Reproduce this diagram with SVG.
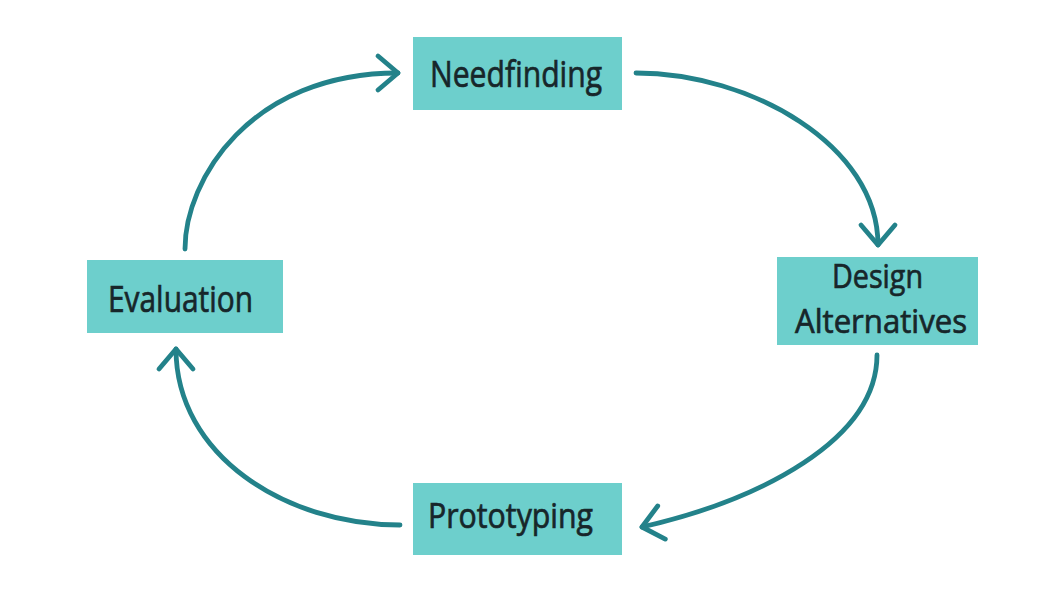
<svg xmlns="http://www.w3.org/2000/svg" width="1059" height="602" viewBox="0 0 1059 602">
  <style>
    .box { fill: #6dcfcc; }
    .lbl { font-family: "Open Sans", "DejaVu Sans", sans-serif; fill: #17262a; stroke: #17262a; stroke-width: 0.7; text-anchor: middle; }
    .conn { fill: none; stroke: #23828a; stroke-width: 4.8; stroke-linecap: round; }
  </style>
  <defs>
    <marker id="chev" markerUnits="userSpaceOnUse" orient="auto" markerWidth="40" markerHeight="40" viewBox="-30 -20 40 40" refX="0" refY="0" overflow="visible">
      <path d="M-20,-17 L0,0 L-20,17" fill="none" stroke="#23828a" stroke-width="4.8" stroke-linecap="round" stroke-linejoin="round"/>
    </marker>
  </defs>
  <rect width="1059" height="602" fill="#ffffff"/>
  <g id="connectors">
    <path class="conn" d="M185,249 C185,180 250,73 398,73" marker-end="url(#chev)"/>
    <path class="conn" d="M636,73 C750,73 878,145 878,245" marker-end="url(#chev)"/>
    <path class="conn" d="M877,355 C877,440 760,500 642,527" marker-end="url(#chev)"/>
    <path class="conn" d="M400,525 C285,525 176,455 176,349" marker-end="url(#chev)"/>
  </g>
  <g id="needfinding">
    <rect class="box" x="413" y="37" width="209" height="73"/>
    <text class="lbl" x="516" y="87" font-size="37" textLength="172" lengthAdjust="spacingAndGlyphs">Needfinding</text>
  </g>
  <g id="design-alternatives">
    <rect class="box" x="777" y="257" width="201" height="88"/>
    <text class="lbl" x="877.5" y="288" font-size="33" textLength="91" lengthAdjust="spacingAndGlyphs">Design</text>
    <text class="lbl" x="881" y="333" font-size="33" textLength="172" lengthAdjust="spacingAndGlyphs">Alternatives</text>
  </g>
  <g id="evaluation">
    <rect class="box" x="87" y="260" width="196" height="73"/>
    <text class="lbl" x="180.5" y="312" font-size="37" textLength="145" lengthAdjust="spacingAndGlyphs">Evaluation</text>
  </g>
  <g id="prototyping">
    <rect class="box" x="413" y="483" width="209" height="72"/>
    <text class="lbl" x="510.5" y="528" font-size="35" textLength="165" lengthAdjust="spacingAndGlyphs">Prototyping</text>
  </g>
</svg>
